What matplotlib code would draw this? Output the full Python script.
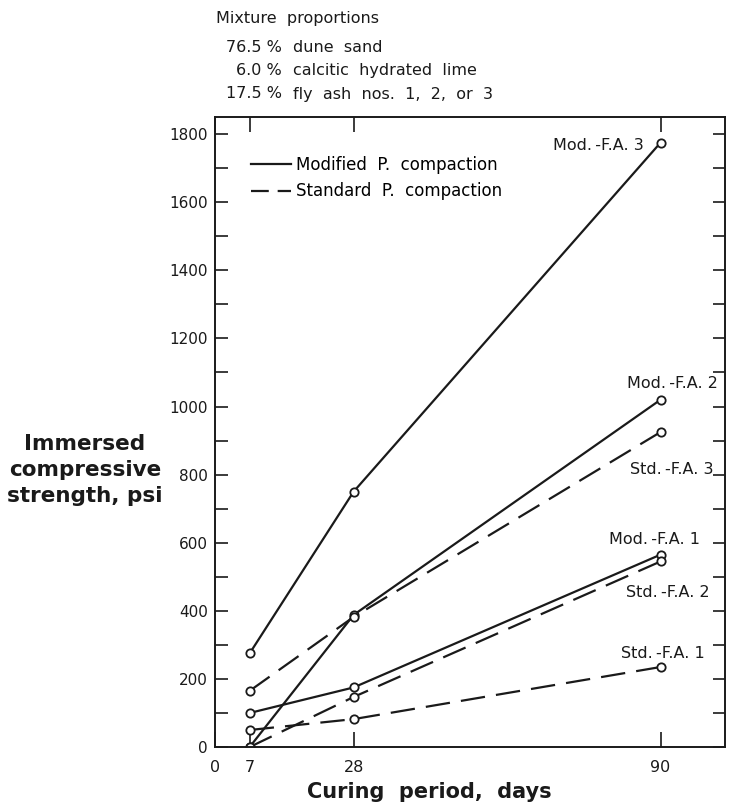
import matplotlib
matplotlib.use("Agg")
import matplotlib.pyplot as plt

# curing period (days) and immersed compressive strength (psi)
days = [7, 28, 90]
mod_fa1 = [100, 175, 565]
mod_fa2 = [0, 388, 1020]
mod_fa3 = [275, 750, 1775]
std_fa1 = [50, 82, 235]
std_fa2 = [0, 147, 545]
std_fa3 = [165, 382, 925]

x_ticks = [0, 7, 28, 90]
y_ticks = list(range(0, 1801, 200))
mix_pct = ["76.5 %", "6.0 %", "17.5 %"]
mix_names = ["dune  sand", "calcitic  hydrated  lime", "fly  ash  nos.  1,  2,  or  3"]

plt.rcParams['font.family'] = ['DejaVu Sans']
ink = '#1a1a1a'

fig = plt.figure(figsize=(7.3, 8.05), dpi=100)
ax = fig.add_axes([0.2945, 0.072, 0.6985, 0.7825])

dash = (0, (11, 5))
line_kw = dict(color=ink, lw=1.6, marker='o', markersize=6,
               markerfacecolor='white', markeredgecolor=ink, markeredgewidth=1.3)

ax.plot(days, mod_fa3, '-', **line_kw)
ax.plot(days, mod_fa2, '-', **line_kw)
ax.plot(days, mod_fa1, '-', **line_kw)
ax.plot(days, std_fa3, linestyle=dash, **line_kw)
ax.plot(days, std_fa2, linestyle=dash, **line_kw)
ax.plot(days, std_fa1, linestyle=dash, **line_kw)

# curve labels
lab_kw = dict(fontsize=11.5, color=ink, va='center')
ax.text(86.6, 1768, 'Mod.\u2009-F.A. 3', ha='right', **lab_kw)
ax.text(92.4, 1068, 'Mod.\u2009-F.A. 2', ha='center', **lab_kw)
ax.text(92.2, 815, 'Std.\u2009-F.A. 3', ha='center', **lab_kw)
ax.text(88.8, 609, 'Mod.\u2009-F.A. 1', ha='center', **lab_kw)
ax.text(91.4, 453, 'Std.\u2009-F.A. 2', ha='center', **lab_kw)
ax.text(90.4, 276, 'Std.\u2009-F.A. 1', ha='center', **lab_kw)

# legend
h1, = ax.plot([], [], '-', color=ink, lw=1.6)
h2, = ax.plot([], [], linestyle=(0, (8, 4)), color=ink, lw=1.6)
ax.legend([h1, h2], ['Modified  P.  compaction', 'Standard  P.  compaction'],
          loc='upper left', bbox_to_anchor=(0.042, 0.962), frameon=False,
          fontsize=12, handlelength=2.4, handletextpad=0.25, labelspacing=0.5)

ax.set_xlim(0, 103)
ax.set_ylim(0, 1850)
ax.set_xticks(x_ticks)
ax.set_xticklabels([str(v) for v in x_ticks], fontsize=11.5)
ax.set_yticks(y_ticks)
ax.set_yticklabels([str(v) for v in y_ticks], fontsize=11)
ax.set_yticks(range(100, 1801, 200), minor=True)
ax.tick_params(axis='both', which='both', direction='in', color=ink, width=1.2,
               top=True, right=True, labelcolor=ink)
ax.tick_params(axis='x', which='major', length=11, pad=9)
ax.tick_params(axis='y', which='both', length=9, pad=5)
for s in ax.spines.values():
    s.set_linewidth(1.4)
    s.set_color(ink)

ax.set_xlabel('Curing  period,  days', fontsize=15, fontweight='bold', color=ink)
ax.xaxis.set_label_coords(0.42, -0.055, transform=ax.transAxes)

fig.text(85 / 730, 1 - 470 / 805, 'Immersed\ncompressive\nstrength, psi',
         fontsize=15.5, fontweight='bold', color=ink, ha='center', va='center',
         linespacing=1.4)

# mixture proportions block
fig.text(216 / 730, 1 - 18 / 805, 'Mixture  proportions', fontsize=11.5,
         color=ink, ha='left', va='center')
for i, (p, n) in enumerate(zip(mix_pct, mix_names)):
    yy = 1 - (47 + 23.5 * i) / 805
    fig.text(282 / 730, yy, p, fontsize=11.5, color=ink, ha='right', va='center')
    fig.text(293 / 730, yy, n, fontsize=11.5, color=ink, ha='left', va='center')

fig.savefig('out.png', dpi=100, facecolor='white')
